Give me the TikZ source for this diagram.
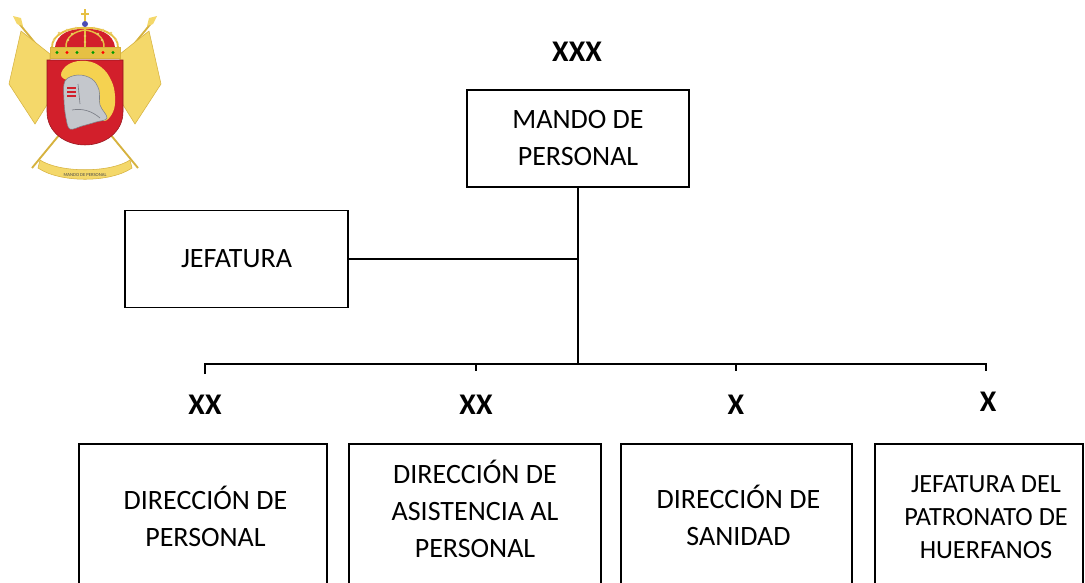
\documentclass[tikz,border=0pt]{standalone}
\usepackage{fontspec}
\setmainfont{Carlito}
\definecolor{flagc}{HTML}{F4D86A}
\definecolor{flagd}{HTML}{D6B23E}
\definecolor{shieldc}{HTML}{D21F2B}
\definecolor{goldc}{HTML}{E6C044}
\definecolor{helmc}{HTML}{C4C7CC}
\definecolor{helmd}{HTML}{7D8088}
\definecolor{plumec}{HTML}{F5D250}
\begin{document}
\begin{tikzpicture}[x=0.75pt,y=-0.75pt,
  box/.style={draw=black,line width=1.4pt,inner sep=0pt},
  conn/.style={draw=black,line width=1.4pt},
  lbl/.style={font=\fontsize{21}{27.75}\selectfont,align=center,inner sep=0pt},
  lblsmall/.style={font=\fontsize{19.7}{24.75}\selectfont,align=center,inner sep=0pt},
  lvl/.style={font=\bfseries\fontsize{22.5}{26}\selectfont,inner sep=0pt}]
\useasboundingbox (0,0) rectangle (1085,582);
\clip (0,0) rectangle (1085,582);
\fill[white] (0,0) rectangle (1085,582);

% ---------------- emblem ----------------
\draw[flagd,line width=1.4pt] (17,21) -- (138,168);
\draw[flagd,line width=1.4pt] (153,21) -- (32,168);
\fill[flagc] (13,16) -- (21,18) -- (23,26) -- (17,24) -- cycle;
\fill[flagc] (157,16) -- (149,18) -- (147,26) -- (153,24) -- cycle;
\fill[flagc,draw=flagd,line width=0.4pt] (21,31) -- (50,54) -- (50,100) -- (35,124) -- (9,84) -- cycle;
\fill[flagc,draw=flagd,line width=0.4pt] (149,31) -- (120,54) -- (120,100) -- (135,124) -- (161,84) -- cycle;
% ribbon
\fill[flagc,draw=flagd,line width=0.4pt] (40,160) .. controls (60,173) and (110,173) .. (130,160)
  -- (132,168) .. controls (110,183) and (60,183) .. (38,168) -- cycle;
\node[font=\fontsize{3.5}{4}\selectfont,text=black!70,inner sep=0pt] (ribtext) at (85,175) {MANDO DE PERSONAL};
% shield
\fill[shieldc,draw=shieldc!70!black,line width=0.4pt] (47,60) -- (123,60) -- (123,112)
  .. controls (123,132) and (105,145) .. (85,145) .. controls (65,145) and (47,132) .. (47,112) -- cycle;
% plume
\fill[plumec] plot[smooth cycle,tension=0.7] coordinates
  {(61,75) (69,64) (86,61) (101,67) (111,80) (115,96) (113,112) (104,121) (98,110) (94,91) (84,81) (70,81)};
% helmet
\fill[helmc,draw=helmd,line width=0.4pt] plot[smooth cycle,tension=0.6] coordinates
  {(65,81) (78,75) (92,79) (99,90) (100,105) (107,118) (96,122) (82,126) (70,129) (66,118) (64,100)};
\draw[shieldc,line width=1pt] (67,88) -- (76,88) (67,92) -- (76,92) (67,96) -- (76,96);
\draw[helmd,line width=0.5pt] (78,84) -- (80,104) (72,110) .. controls (82,108) and (92,111) .. (100,118);
% crown
\fill[shieldc] (55,48) .. controls (56,33) and (72,28) .. (85,29) .. controls (98,28) and (114,33) .. (115,48) -- cycle;
\draw[goldc,line width=1.4pt] (52,48) .. controls (51,34) and (70,27) .. (85,28) .. controls (100,27) and (119,34) .. (118,48);
\draw[goldc,line width=1.1pt] (66,48) .. controls (65,37) and (75,31) .. (85,30) .. controls (95,31) and (105,37) .. (104,48);
\draw[goldc,line width=1.1pt] (85,28) -- (85,48);
\foreach \pa/\pb in {54/40, 59/33, 67/30, 76/28, 94/28, 103/30, 111/33, 116/40, 68/40, 72/34, 98/34, 102/40, 85/36, 85/42}
  \fill[goldc!80!white] (\pa,\pb) circle (1.3);
\fill[goldc,draw=flagd,line width=0.4pt] (50,47) rectangle (120,58);
\foreach \gx/\gc in {57/green!60!black, 67/red, 77/green!60!black, 93/green!60!black, 103/red, 113/green!60!black}
  \fill[\gc] (\gx,52.5) circle (1.6);
\fill[blue!40!gray] (85,24) circle (3);
\draw[goldc,line width=1.3pt] (85,9) -- (85,21) (81,14) -- (89,14);

% ---------------- chart ----------------
\node[lvl] (l0) at (577,52) {XXX};
\node[box,lbl,minimum width=166.5pt,minimum height=72.75pt] (mando) at (578,138.5) {MANDO DE\\PERSONAL};
\node[box,lbl,minimum width=167.25pt,minimum height=72.75pt] (jef) at (236.5,259) {JEFATURA};

\coordinate (bL) at (205,364);
\coordinate (bR) at (986,364);
\coordinate (t1) at (205,374);
\coordinate (t4) at (986,371);
\coordinate (m2a) at (476,364);
\coordinate (m2b) at (476,371);
\coordinate (m3a) at (736,364);
\coordinate (m3b) at (736,371);

\draw[conn] (mando.south) -- (mando.south |- bL);
\draw[conn] (jef.east) -- (jef.east -| mando.south);
\draw[conn] (t1) -- (bL) -- (bR) -- (t4);
\draw[conn] (m2a) -- (m2b);
\draw[conn] (m3a) -- (m3b);

\node[lvl] (l1) at (205,405) {XX};
\node[lvl] (l2) at (476,405) {XX};
\node[lvl] (l3) at (736,405) {X};
\node[lvl] (l4) at (988,402) {X};

\node[box,anchor=north,minimum width=186pt,minimum height=117.75pt] (d1) at (203,443) {};
\node[box,anchor=north,minimum width=189pt,minimum height=117.75pt] (d2) at (475,443) {};
\node[box,anchor=north,minimum width=173.25pt,minimum height=117.75pt] (d3) at (736.5,443) {};
\node[box,anchor=north,minimum width=156pt,minimum height=117.75pt] (d4) at (979,443) {};

\node[lbl] (d1t) at (205.5,516) {DIRECCIÓN DE\\PERSONAL};
\node[lbl] (d2t) at (475,508.5) {DIRECCIÓN DE\\ASISTENCIA AL\\PERSONAL};
\node[lbl] (d3t) at (738.5,515.5) {DIRECCIÓN DE\\SANIDAD};
\node[lblsmall] (d4t) at (986,517.5) {JEFATURA DEL\\PATRONATO DE\\HUERFANOS};
\end{tikzpicture}
\end{document}
